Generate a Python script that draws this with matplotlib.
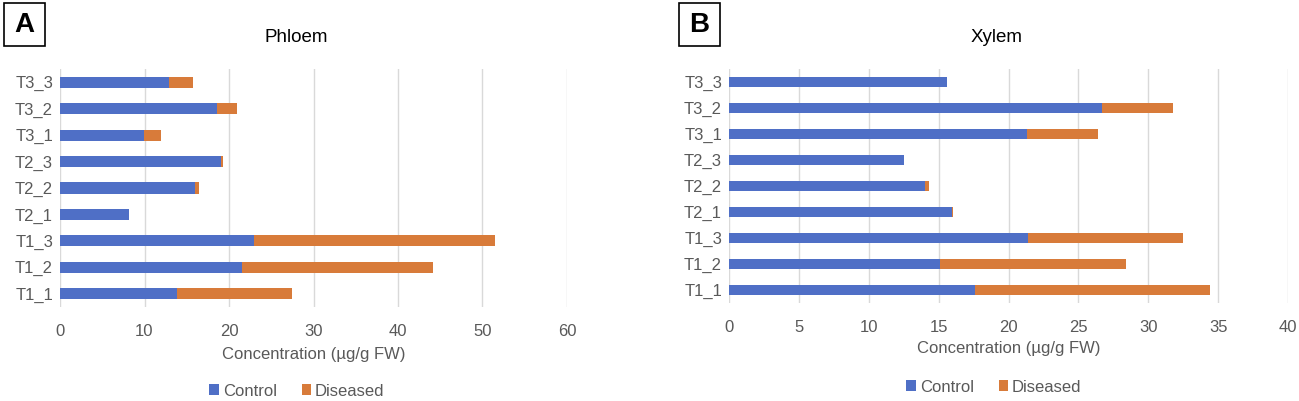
import matplotlib
matplotlib.use("Agg")
import matplotlib.pyplot as plt
from matplotlib.patches import Rectangle

plt.rcParams['font.family'] = ['Liberation Sans', 'DejaVu Sans']

categories = ["T1_1", "T1_2", "T1_3", "T2_1", "T2_2", "T2_3", "T3_1", "T3_2", "T3_3"]

phloem_control = [13.9, 21.5, 22.9, 8.2, 16.0, 19.1, 9.9, 18.6, 12.9]
phloem_diseased = [13.6, 22.7, 28.6, 0.0, 0.4, 0.2, 2.1, 2.4, 2.8]

xylem_control = [17.6, 15.1, 21.4, 15.95, 14.0, 12.5, 21.3, 26.7, 15.6]
xylem_diseased = [16.8, 13.3, 11.1, 0.05, 0.3, 0.05, 5.1, 5.1, 0.0]

phloem_ticks = [0, 10, 20, 30, 40, 50, 60]
xylem_ticks = [0, 5, 10, 15, 20, 25, 30, 35, 40]

BLUE = "#4F6FC6"
ORANGE = "#D87B3A"
GRID = "#D9D9D9"
TXT = "#595959"

W, H = 1299, 401
fig = plt.figure(figsize=(W / 100, H / 100), dpi=100)


def make_panel(rect, control, diseased, ticks, title, label, title_x, label_box,
               legend_x, legend_y, xlabel_y):
    ax = fig.add_axes(rect)
    y = list(range(len(categories)))
    ax.barh(y, control, height=0.42, color=BLUE, label="Control", zorder=3)
    ax.barh(y, diseased, left=control, height=0.42, color=ORANGE, label="Diseased", zorder=3)
    ax.set_xlim(ticks[0], ticks[-1])
    ax.set_ylim(-0.5, len(categories) - 0.5)
    ax.set_xticks(ticks)
    ax.set_yticks(y)
    ax.set_yticklabels(categories)
    ax.tick_params(length=0, labelsize=12, labelcolor=TXT, pad=5)
    ax.tick_params(axis='x', pad=12)
    ax.grid(axis='x', color=GRID, linewidth=1, zorder=0)
    for s in ax.spines.values():
        s.set_visible(False)
    fig.text(title_x / W, 1 - 37 / H, title, ha='center', va='center', fontsize=13.5, color='black')
    xc = (rect[0] + rect[2] / 2)
    fig.text(xc, 1 - xlabel_y / H, "Concentration (µg/g FW)", ha='center', va='center', fontsize=12, color=TXT)
    # legend
    fig.legend(handles=ax.get_legend_handles_labels()[0], labels=["Control", "Diseased"],
               loc='center', bbox_to_anchor=(legend_x / W, 1 - legend_y / H), ncol=2, frameon=False,
               fontsize=12, handlelength=0.55, handleheight=0.6, handletextpad=0.25,
               columnspacing=1.5, labelcolor=TXT)
    # panel label box
    x0, y0, x1, y1 = label_box
    fig.patches.append(Rectangle((x0 / W, 1 - y1 / H), (x1 - x0) / W, (y1 - y0) / H,
                                 transform=fig.transFigure, fill=False, edgecolor='black', linewidth=1.2))
    fig.text((x0 + x1) / 2 / W, 1 - (y0 + y1) / 2 / H, label, ha='center', va='center',
             fontsize=20, fontweight='bold', color='black')
    return ax


def rect_px(left, right, top, bottom):
    return [left / W, 1 - bottom / H, (right - left) / W, (bottom - top) / H]


make_panel(rect_px(60, 567, 69, 307), phloem_control, phloem_diseased, phloem_ticks,
           "Phloem", "A", 296, (4, 3, 45, 46), 297, 391, 354)
make_panel(rect_px(729, 1288, 69, 303), xylem_control, xylem_diseased, xylem_ticks,
           "Xylem", "B", 997, (679, 3, 720, 46), 994, 387, 348)

fig.savefig("out.png", dpi=100)
